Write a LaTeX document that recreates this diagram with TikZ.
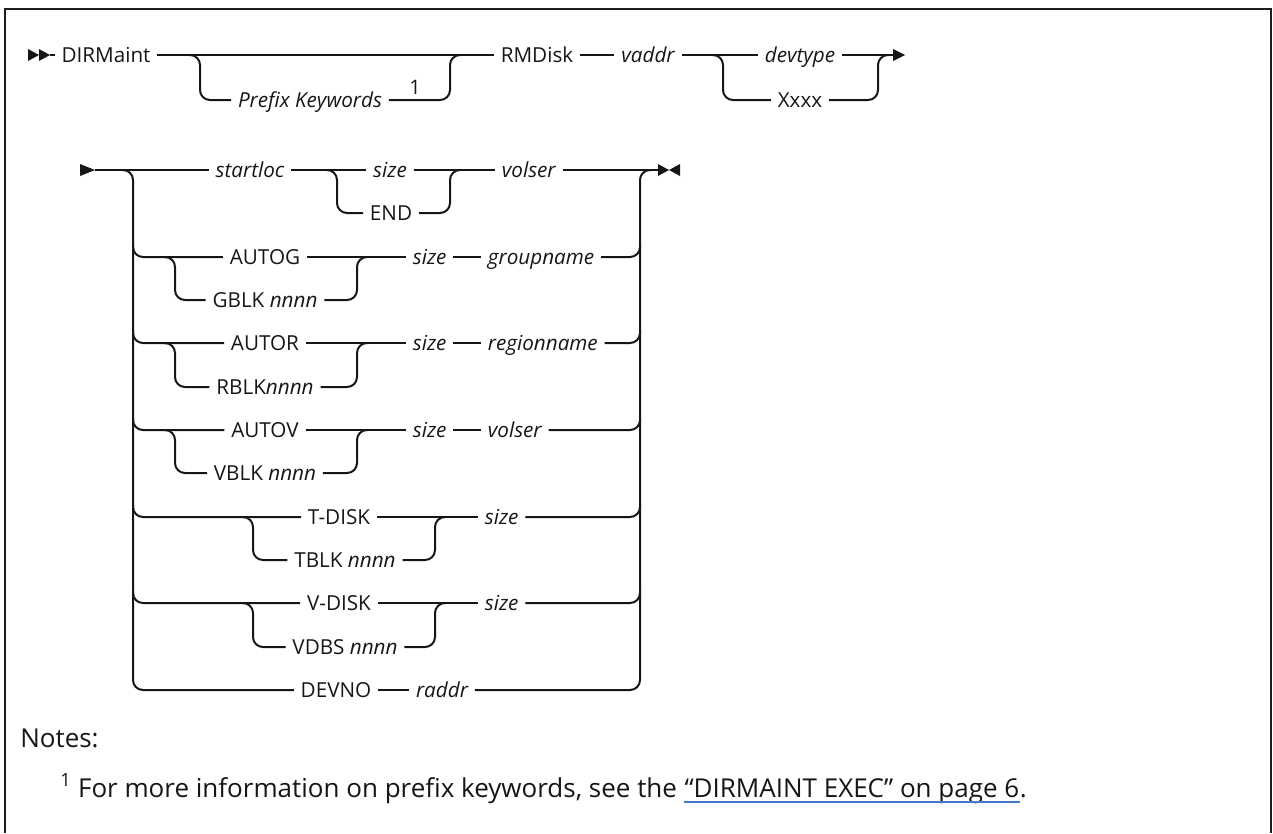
\documentclass[tikz,border=0pt]{standalone}
\usepackage{fontspec}
\setmainfont{Open Sans}
\usetikzlibrary{positioning, calc}
\definecolor{colRail}{RGB}{22,22,22}
\definecolor{colFrame}{RGB}{30,30,30}
\definecolor{colLink}{RGB}{70,120,200}
\tikzset{
  rail/.style={line width=1.5pt, color=colRail, rounded corners=7.5pt},
  frame/.style={line width=2pt, color=colFrame},
  kw/.style={
    font=\fontsize{15.5}{18}\selectfont, text=colRail,
    inner xsep=5pt, inner ysep=0pt, text height=11pt, text depth=0pt
  },
  var/.style={kw, font=\fontsize{15.5}{18}\selectfont\itshape},
  noteref/.style={font=\fontsize{15}{17}\selectfont, text=colRail, inner sep=0pt},
  note/.style={font=\fontsize{19.5}{23}\selectfont, text=colRail, inner sep=0pt, anchor=base west}
}

\begin{document}
\begin{tikzpicture}[x=0.75pt, y=-0.75pt]
  \useasboundingbox (0,0) rectangle (1273,833);

  % frame
  \draw[frame] (5,833) -- (5,9) -- (1271,9) -- (1271,833);

  % first line
  \fill[colRail] (28,49) -- (39,55) -- (28,61) -- cycle;
  \fill[colRail] (39,49) -- (50,55) -- (39,61) -- cycle;
  \coordinate (start1) at (50,55);
  \node[kw] (dirm) at (106,55) {DIRMaint};
  \node[var] (prefix) at (310,100) {Prefix Keywords};
  \node[noteref] (ref1) at (415,87) {1};
  \node[kw] (rmdisk) at (537,55) {RMDisk};
  \node[var] (vaddr) at (648,55) {vaddr};
  \node[var] (devtype) at (800,55) {devtype};
  \node[kw] (xxxx) at (800,100) {Xxxx};
  \coordinate (end1) at (893,55);
  \fill[colRail] (893,49) -- (905,55) -- (893,61) -- cycle;

  \draw[rail] (start1) -- (dirm);
  \draw[rail] (dirm) -- (rmdisk);
  \draw[rail] (189,55) -| (200,100) -- (prefix);
  \draw[rail] (prefix) -| (450,55) -- (461,55);
  \draw[rail] (rmdisk) -- (vaddr);
  \draw[rail] (vaddr) -- (devtype);
  \draw[rail] (712,55) -| (723,100) -- (xxxx);
  \draw[rail] (xxxx) -| (878,55) -- (889,55);
  \draw[rail] (devtype) -- (end1);

  % second line
  \fill[colRail] (80,164) -- (95,170) -- (80,176) -- cycle;
  \coordinate (start2) at (95,170);
  \coordinate (end2) at (658,170);
  \fill[colRail] (658,164) -- (669,170) -- (658,176) -- cycle;
  \fill[colRail] (680,164) -- (669,170) -- (680,176) -- cycle;

  \node[var] (startloc) at (250,170) {startloc};
  \node[var] (size1) at (390,170) {size};
  \node[kw] (endkw) at (391,213) {END};
  \node[var, anchor=west] (volser1) at (495,170) {volser};

  \node[kw] (autog) at (265,257) {AUTOG};
  \node[kw] (gblk) at (265,300) {GBLK \textit{nnnn}};
  \node[var, anchor=west] (sizeg) at (406,257) {size};
  \node[var, anchor=west] (groupname) at (481,257) {groupname};

  \node[kw] (autor) at (265,343) {AUTOR};
  \node[kw] (rblk) at (265,387) {RBLK\textit{nnnn}};
  \node[var, anchor=west] (sizer) at (406,343) {size};
  \node[var, anchor=west] (regionname) at (481,343) {regionname};

  \node[kw] (autov) at (265,430) {AUTOV};
  \node[kw] (vblk) at (265,473) {VBLK \textit{nnnn}};
  \node[var, anchor=west] (sizev) at (406,430) {size};
  \node[var, anchor=west] (volser2) at (481,430) {volser};

  \node[kw] (tdisk) at (339,517) {T-DISK};
  \node[kw] (tblk) at (345,560) {TBLK \textit{nnnn}};
  \node[var, anchor=west] (sizet) at (478,517) {size};

  \node[kw] (vdisk) at (339,603) {V-DISK};
  \node[kw] (vdbs) at (345,647) {VDBS \textit{nnnn}};
  \node[var, anchor=west] (sizevd) at (478,603) {size};

  \node[kw] (devno) at (336,690) {DEVNO};
  \node[var] (raddr) at (442,690) {raddr};

  % outer choice
  \draw[rail] (start2) -- (startloc);
  \draw[rail] (122,170) -| (133,690) -- (devno);
  \draw[rail] (raddr) -| (640,170) -- (651,170);
  \draw[rail] (volser1) -- (end2);

  % startloc path
  \draw[rail] (startloc) -- (size1);
  \draw[rail] (size1) -- (volser1);
  \draw[rail] (326,170) -| (337,213) -- (endkw);
  \draw[rail] (endkw) -| (450,170) -- (461,170);

  % group, region and volume paths
  \foreach \kwn/\altn/\szn/\nmn/\yy/\ya in {autog/gblk/sizeg/groupname/257/300,
      autor/rblk/sizer/regionname/343/387, autov/vblk/sizev/volser2/430/473} {
    \draw[rail] (133,\yy-12) |- (\kwn);
    \draw[rail] (164,\yy) -| (175,\ya) -- (\altn);
    \draw[rail] (\altn) -| (357,\yy) -- (368,\yy);
    \draw[rail] (\kwn) -- (\szn);
    \draw[rail] (\szn) -- (\nmn);
    \draw[rail] (\nmn) -| (640,\yy-12);
  }

  % temporary and virtual disk paths
  \foreach \kwn/\altn/\szn/\yy/\ya in {tdisk/tblk/sizet/517/560, vdisk/vdbs/sizevd/603/647} {
    \draw[rail] (133,\yy-12) |- (\kwn);
    \draw[rail] (242,\yy) -| (253,\ya) -- (\altn);
    \draw[rail] (\altn) -| (435,\yy) -- (446,\yy);
    \draw[rail] (\kwn) -- (\szn);
    \draw[rail] (\szn) -| (640,\yy-12);
  }

  \draw[rail] (devno) -- (raddr);

  % notes
  \node[note] (notes) at (20,747) {Notes:};
  \node[note] (fntext) at (60,797) {\textsuperscript{1} For more information on prefix keywords, see the};
  \node[note] (fnlink) at ($(fntext.base east)+(7,0)$) {“DIRMAINT EXEC” on page 6};
  \node[note] (fnend) at (fnlink.base east) {.};
  \draw[colLink, line width=1pt] ($(fnlink.base west)+(0,5)$) -- ($(fnlink.base east)+(0,5)$);
\end{tikzpicture}
\end{document}
